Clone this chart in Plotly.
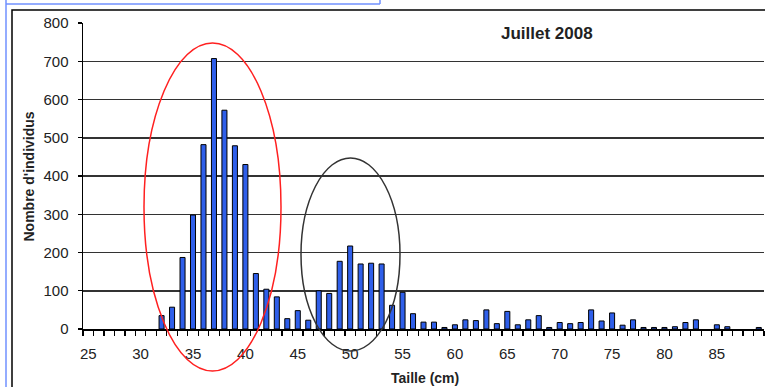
import plotly.graph_objects as go

# Data
tailles = list(range(25, 90))
effectifs = [0, 0, 0, 0, 0, 0, 0,            # 25-31
             35, 57, 187, 298, 482, 707, 572, 479, 430,   # 32-40
             145, 104, 84, 27, 48, 23, 100, 93, 177, 217,  # 41-50
             170, 172, 170, 62, 96, 40, 18, 18, 4, 11,     # 51-60
             24, 22, 50, 14, 46, 11, 24, 35, 4, 17,        # 61-70
             14, 17, 50, 21, 42, 10, 24, 4, 4, 4,          # 71-80
             6, 17, 24, 0, 11, 6, 0, 0, 4]                 # 81-89
x_tick_vals = [25, 30, 35, 40, 45, 50, 55, 60, 65, 70, 75, 80, 85]
y_tick_vals = [0, 100, 200, 300, 400, 500, 600, 700, 800]
y_grid_vals = [100, 200, 300, 400, 500, 600, 700]
titre = "Juillet 2008"
x_titre = "Taille (cm)"
y_titre = "Nombre d'individus"

FONT = "Liberation Sans, Arial, sans-serif"

fig = go.Figure()
fig.add_trace(go.Bar(
    x=tailles, y=[v if v > 0 else None for v in effectifs],
    marker=dict(color="#2F5FEA", line=dict(color="black", width=1)),
    hoverinfo="x+y",
))

W, H = 765, 387
ml, mr, mt, mb = 83, 1, 23, 58
pw = W - ml - mr
ph = H - mt - mb

def px(xp):
    return (xp - ml) / pw

def py(yp):
    return (H - mb - yp) / ph

shapes = [
    # outer black frame
    dict(type="rect", xref="paper", yref="paper",
         x0=px(12), x1=px(772), y0=py(395), y1=py(10),
         line=dict(color="black", width=1.5), layer="below"),
    # blue page lines
    dict(type="line", xref="paper", yref="paper",
         x0=px(6), x1=px(6), y0=py(395), y1=py(-2),
         line=dict(color="#7090FF", width=1.5)),
    dict(type="line", xref="paper", yref="paper",
         x0=px(6), x1=px(380), y0=py(4), y1=py(4),
         line=dict(color="#7090FF", width=1.5)),
    dict(type="line", xref="paper", yref="paper",
         x0=px(380), x1=px(380), y0=py(4), y1=py(-2),
         line=dict(color="#7090FF", width=1.5)),
    # red ellipse
    dict(type="circle", xref="paper", yref="paper",
         x0=px(144), x1=px(281), y0=py(371), y1=py(43),
         line=dict(color="#FF2020", width=1.5), layer="above"),
    # black ellipse
    dict(type="circle", xref="paper", yref="paper",
         x0=px(301), x1=px(400), y0=py(351), y1=py(158),
         line=dict(color="#333333", width=1.5), layer="above"),
]

annotations = [
    dict(text="<b>" + titre + "</b>", xref="paper", yref="paper",
         x=px(546.5), y=py(34), showarrow=False,
         font=dict(family=FONT, size=17, color="#222"),
         xanchor="center", yanchor="middle"),
    dict(text="<b>" + x_titre + "</b>", xref="paper", yref="paper",
         x=px(424.5), y=py(378), showarrow=False,
         font=dict(family=FONT, size=14, color="#222"),
         xanchor="center", yanchor="middle"),
    dict(text="<b>" + y_titre + "</b>", xref="paper", yref="paper",
         x=px(28), y=py(176.5), showarrow=False, textangle=-90,
         font=dict(family=FONT, size=14, color="#222"),
         xanchor="center", yanchor="middle"),
]

fig.update_layout(
    width=W, height=H,
    margin=dict(l=ml, r=mr, t=mt, b=mb, pad=0),
    paper_bgcolor="white", plot_bgcolor="white",
    showlegend=False,
    bargap=0.52,
    font=dict(family=FONT, size=15, color="#222"),
    shapes=shapes,
    annotations=annotations,
    xaxis=dict(
        range=[24.5, 89.5],
        tickmode="array", tickvals=x_tick_vals,
        ticks="outside", ticklen=10, tickcolor="rgba(0,0,0,0)",
        showgrid=False, zeroline=False,
        showline=True, linecolor="black", linewidth=1.5,
        tickfont=dict(family=FONT, size=15, color="#222"),
        minor=dict(tickmode="array",
                   tickvals=[v - 0.5 for v in tailles] + [tailles[-1] + 0.5],
                   ticks="outside", ticklen=5, tickcolor="black", tickwidth=1.2,
                   showgrid=False),
        fixedrange=True,
    ),
    yaxis=dict(
        range=[0, 800],
        tickmode="array", tickvals=y_tick_vals,
        ticks="outside", ticklen=4, tickcolor="black", tickwidth=1.2,
        ticklabelstandoff=6,
        showgrid=False, zeroline=False,
        showline=True, linecolor="black", linewidth=1.5,
        tickfont=dict(family=FONT, size=15, color="#222"),
        minor=dict(tickmode="array", tickvals=y_grid_vals,
                   ticks="", showgrid=True, gridcolor="#333", gridwidth=1.5),
        fixedrange=True,
    ),
)

fig.write_html("out.html",
               config={"displayModeBar": False, "staticPlot": True},
               post_script="document.body.style.margin='0px';document.body.style.overflow='hidden';")
